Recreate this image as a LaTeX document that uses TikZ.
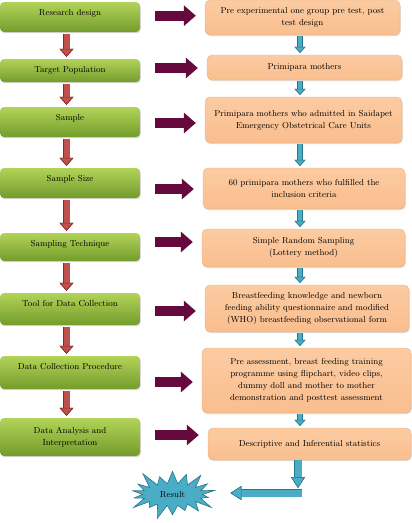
\documentclass[tikz,border=0pt]{standalone}
\usepackage{tikz}
\usetikzlibrary{positioning,shapes.symbols,arrows.meta,shadows}
\definecolor{greentop}{RGB}{178,211,88}
\definecolor{greenbot}{RGB}{116,156,44}
\definecolor{peach}{RGB}{249,190,142}
\definecolor{peachtop}{RGB}{252,203,162}
\definecolor{peachline}{RGB}{238,172,122}
\definecolor{brickred}{RGB}{192,80,77}
\definecolor{brickdark}{RGB}{140,42,40}
\definecolor{plum}{RGB}{102,10,62}
\definecolor{tealfill}{RGB}{75,172,198}
\definecolor{tealdark}{RGB}{38,118,142}

\begin{document}
\begin{tikzpicture}[x=1pt, y=-1pt,
  every node/.style={font=\fontsize{8.7}{12}\selectfont},
  greenbase/.style={rounded corners=4pt, top color=greentop, bottom color=greenbot, minimum width=140pt, inner ysep=2pt,
    drop shadow={opacity=0.3, shadow xshift=0.8pt, shadow yshift=-1.2pt}},
  greenbox/.style={greenbase, text height=11.5pt, text depth=#1},
  greenbox/.default=14.5pt,
  peachbox/.style={rounded corners=5pt, top color=peachtop, bottom color=peach, draw=peachline, line width=0.3pt, align=center,
    drop shadow={opacity=0.25, shadow xshift=0.8pt, shadow yshift=-1.2pt}},
  downred/.style={line width=6pt, draw=brickred, shorten <=2pt, shorten >=2pt,
    -{Triangle[width=14pt, length=8pt, fill=brickred, color=brickdark, line width=0.6pt]},
    preaction={draw=brickdark, line width=7.2pt, -{Triangle[width=14pt, length=8pt, fill=brickdark, color=brickdark, line width=0.6pt]}}},
  toright/.style={line width=10pt, draw=plum, shorten <=15pt, shorten >=9pt, -{Triangle[width=20pt, length=12pt]}},
  downteal/.style={line width=4.5pt, draw=tealfill, shorten <=1pt, shorten >=2pt,
    -{Triangle[width=11pt, length=6pt, fill=tealfill, color=tealdark, line width=0.5pt]},
    preaction={draw=tealdark, line width=5.5pt, -{Triangle[width=11pt, length=6pt, fill=tealdark, color=tealdark, line width=0.5pt]}}},
  tealwide/.style={line width=7pt, draw=tealfill,
    -{Triangle[width=14pt, length=11pt, fill=tealfill, color=tealdark, line width=0.5pt]},
    preaction={draw=tealdark, line width=8pt, -{Triangle[width=14pt, length=11pt, fill=tealdark, color=tealdark, line width=0.5pt]}}}]
\useasboundingbox (0,0) rectangle (412,523);

\node[greenbox, minimum width=140pt] (rd) at (70,17) {Research design};
\node[greenbox=7.5pt] (tp) at (70,70.5) {Target Population};
\node[greenbox] (sm) at (70,122) {Sample};
\node[greenbox] (ss) at (70,183) {Sample Size};
\node[greenbox=12.5pt] (st) at (70,247) {Sampling Technique};
\node[greenbox=16.5pt] (tool) at (70,309) {Tool for Data Collection};
\node[greenbox=17.5pt] (dcp) at (70,372.5) {Data Collection Procedure};
\node[greenbase, align=center, minimum height=38pt] (da) at (70,437) {Data Analysis and\\Interpretation};

\node[peachbox, minimum width=195pt, minimum height=35pt] (o1) at (302.5,17.5) {Pre experimental one group pre test, post\\test design};
\node[peachbox, minimum width=195pt, minimum height=25pt] (o2) at (304.5,67.5) {Primipara mothers};
\node[peachbox, minimum width=197pt, minimum height=46pt] (o3) at (303.5,120) {Primipara mothers who admitted in Saidapet\\Emergency Obstetrical Care Units};
\node[peachbox, minimum width=202pt, minimum height=41pt] (o4) at (304,188.5) {60 primipara mothers who fulfilled the\\inclusion criteria};
\node[peachbox, minimum width=203pt, minimum height=38pt] (o5) at (303.5,248) {Simple Random Sampling\\(Lottery method)};
\node[peachbox, minimum width=204pt, minimum height=47pt] (o6) at (307,308.5) {Breastfeeding knowledge and newborn\\feeding ability questionnaire and modified\\(WHO) breastfeeding observational form};
\node[peachbox, minimum width=209pt, minimum height=65pt] (o7) at (306.5,380.5) {Pre assessment, breast feeding training\\programme using flipchart, video clips,\\dummy doll and mother to mother\\demonstration and posttest assessment};
\node[peachbox, minimum width=203pt, minimum height=32pt] (o8) at (309.5,444) {Descriptive and Inferential statistics};

\node[starburst, starburst points=18, starburst point height=17pt, fill=tealfill, draw=tealdark, line width=0.6pt,
  minimum width=94pt, minimum height=56pt, inner sep=0pt] (res) at (172.5,494.5) {Result};

\coordinate (redaxis) at (66.5,0);
\coordinate (tealaxis) at (300,0);
\coordinate (bend) at (298,488);
\coordinate (elbow) at (302,493);

\foreach \a/\b in {rd/tp, tp/sm, sm/ss, ss/st, st/tool, tool/dcp, dcp/da}
    \draw[downred] (\a.south -| redaxis) -- (\b.north -| redaxis);
\foreach \a/\b in {o1/o2, o2/o3, o3/o4, o4/o5, o5/o6, o6/o7, o7/o8}
    \draw[downteal] (\a.south -| tealaxis) -- (\b.north -| tealaxis);
\foreach \a/\b/\s in {rd/o1/1.3, tp/o2/2.5, sm/o3/-1, ss/o4/-6, st/o5/5, tool/o6/-2, dcp/o7/-9.5, da/o8/2}
    \draw[toright] ([yshift=\s pt]\a.east) -- ([yshift=\s pt]\a.east -| \b.west);
\draw[tealwide] (o8.south -| bend) -- (bend);
\draw[tealwide, shorten >=27pt] (elbow) -- (res.east |- elbow);
\end{tikzpicture}
\end{document}
